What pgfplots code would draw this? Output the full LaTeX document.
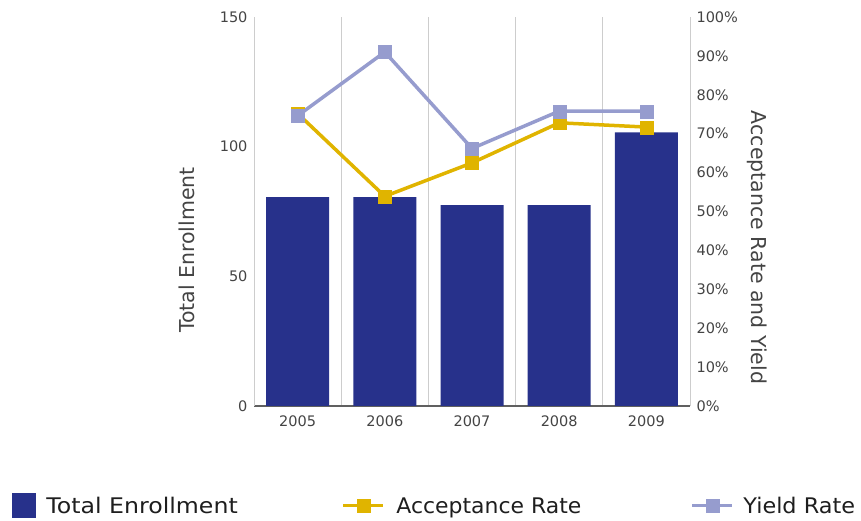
\documentclass[border=0pt]{standalone}
\usepackage{fontspec}
\setmainfont{DejaVu Sans}
\newfontfamily\legfontA[FakeStretch=1.1]{DejaVu Sans}
\newfontfamily\legfontB[FakeStretch=1.02]{DejaVu Sans}
\newfontfamily\legfontC[FakeStretch=1.04]{DejaVu Sans}
\usepackage{pgfplots}
\pgfplotsset{compat=1.18}
\definecolor{barblue}{RGB}{39,49,139}
\definecolor{accyel}{RGB}{224,180,0}
\definecolor{yieldlav}{RGB}{150,156,206}
\definecolor{gridgray}{RGB}{205,205,205}
\definecolor{axgray}{RGB}{96,96,96}
\definecolor{txt}{RGB}{68,68,68}
\definecolor{legtxt}{RGB}{30,30,30}
\begin{document}
\begin{tikzpicture}[x=1pt,y=1pt]
\useasboundingbox (0,0) rectangle (861,521);
\begin{axis}[
  at={(254pt,115pt)}, anchor=south west,
  scale only axis, width=436pt, height=389pt,
  xmin=-0.5, xmax=4.5, ymin=0, ymax=150,
  enlargelimits=false,
  /pgf/number format/assume math mode=true,
  axis x line*=bottom, axis y line*=left,
  x axis line style={draw=axgray, line width=1.5pt, -},
  y axis line style={draw=gridgray, line width=1pt, -},
  xtick={0,1,2,3,4},
  xticklabels={2005,2006,2007,2008,2009},
  minor xtick={-0.5,0.5,1.5,2.5,3.5,4.5},
  xminorgrids, minor grid style={draw=gridgray, line width=1pt},
  major tick length=0pt, minor tick length=0pt,
  ytick={0,50,100,150},
  ticklabel style={font=\fontsize{14.5}{17}\selectfont, text=txt},
  yticklabel style={xshift=-3pt},
  xticklabel style={yshift=-6.5pt},
  ylabel={Total Enrollment},
  ylabel style={at={(axis description cs:-0.1537,0.401)}, anchor=center, font=\fontsize{20.5}{24}\selectfont, text=txt},
  ybar, bar width=63pt,
]
\addplot[fill=barblue, draw=none] coordinates {(0,80.5) (1,80.5) (2,77.5) (3,77.5) (4,105.5)};
\end{axis}
\begin{axis}[
  at={(254pt,115pt)}, anchor=south west,
  scale only axis, width=436pt, height=389pt,
  xmin=-0.5, xmax=4.5, ymin=0, ymax=100,
  enlargelimits=false,
  /pgf/number format/assume math mode=true,
  axis x line=none, axis y line*=right,
  y axis line style={draw=gridgray, line width=1pt, -},
  major tick length=0pt,
  ytick={0,10,...,100},
  yticklabel={\pgfmathprintnumber{\tick}\%},
  ticklabel style={font=\fontsize{14.5}{17}\selectfont, text=txt},
  yticklabel style={xshift=3pt},
  ylabel={Acceptance Rate and Yield},
  ylabel style={at={(axis description cs:1.1548,0.4075)}, anchor=center, rotate=180, font=\fontsize{20.5}{24}\selectfont, text=txt},
  legend columns=3,
  legend cell align=left,
  legend image code/.code={\begin{pgfinterruptboundingbox}\draw[mark repeat=2,mark phase=2,#1] plot coordinates {(0pt,0pt) (20pt,0pt) (40pt,0pt)};\end{pgfinterruptboundingbox}\path[draw=none,fill=none] (0pt,-6pt) rectangle (40pt,6pt);},
  legend style={at={(-0.555,-0.2558)}, anchor=west, draw=none, fill=none,
    inner sep=0pt, outer sep=0pt, column sep=0pt, row sep=0pt,
    font=\fontsize{21.5}{25}\selectfont, text=legtxt,
    nodes={inner sep=0pt, outer sep=0pt, text height=15.5pt, text depth=0pt}},
]
\addlegendimage{legend image code/.code={\fill[barblue] (0pt,-12pt) rectangle (23pt,12pt);}}
\addlegendentry{\makebox[308pt][l]{\hspace{11pt}\legfontA Total Enrollment}}
\addplot[accyel, line width=3.5pt, mark=square*, mark size=6.5pt, mark options={solid, line width=0.1pt, fill=accyel}]
  coordinates {(0,75.2) (1,53.9) (2,62.5) (3,72.8) (4,71.7)};
\addlegendentry{\makebox[309pt][l]{\hspace{13pt}\legfontB Acceptance Rate}}
\addplot[yieldlav, line width=3.5pt, mark=square*, mark size=6.5pt, mark options={solid, line width=0.1pt, fill=yieldlav}]
  coordinates {(0,74.6) (1,91.0) (2,66.2) (3,75.8) (4,75.8)};
\addlegendentry{\hspace{11pt}\legfontC Yield Rate}
\end{axis}
\end{tikzpicture}
\end{document}
